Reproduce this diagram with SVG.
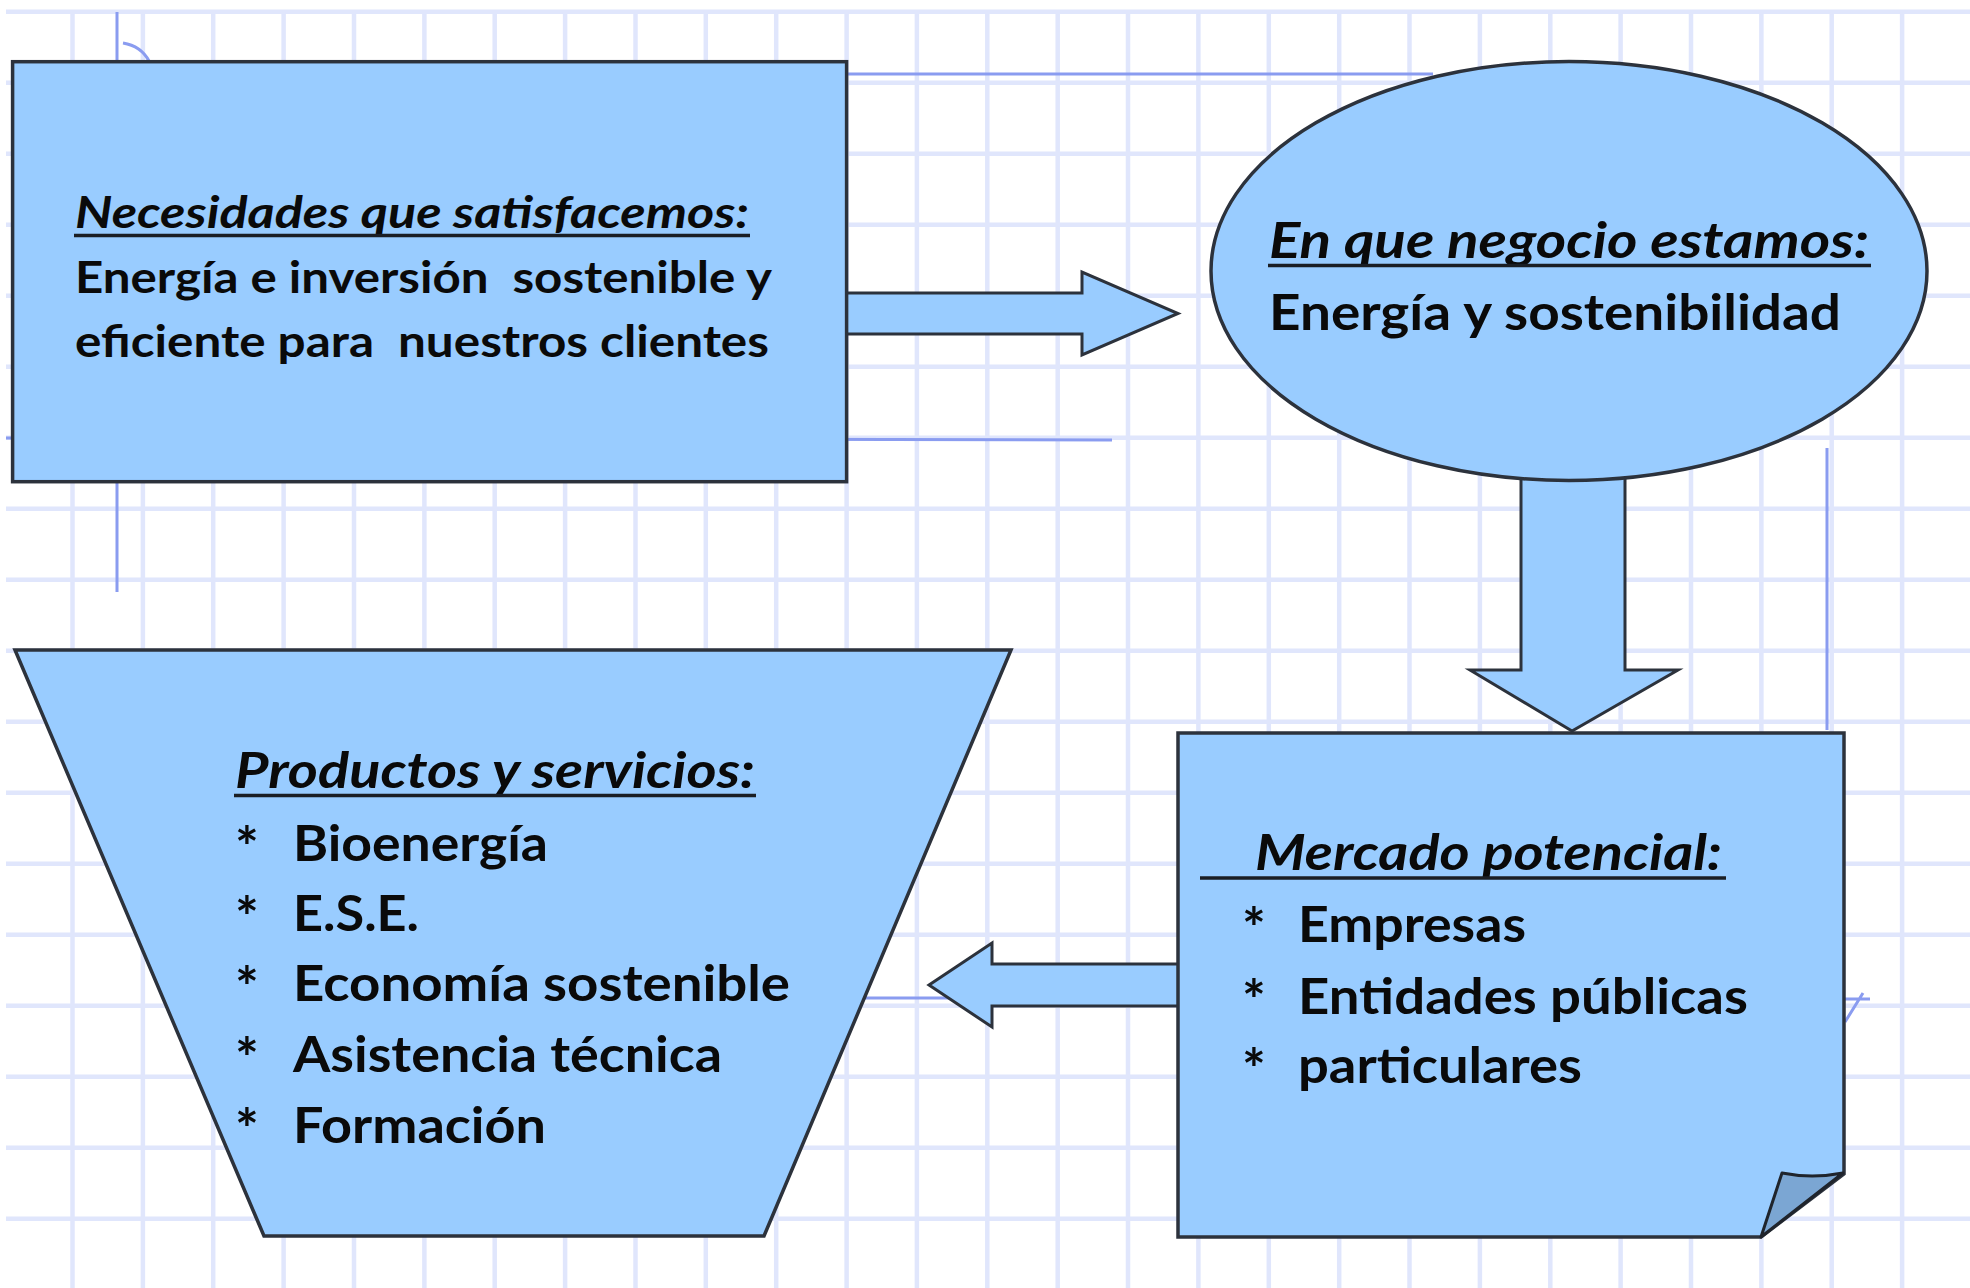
<svg xmlns="http://www.w3.org/2000/svg" width="1970" height="1288" viewBox="0 0 1970 1288">
<defs>
<style>
.grid line{stroke:#e0e6fc;stroke-width:4.5}
.mark{stroke:#8a9cf0;stroke-width:3;fill:none}
.shape{fill:#99ccff;stroke:#2c323c;stroke-width:3.5;stroke-linejoin:miter}
.arrow{fill:#99ccff;stroke:#2c323c;stroke-width:3}
.t{font-family:Lato,"Liberation Sans",sans-serif;font-weight:bold;fill:#0a0a0a;white-space:pre}
.h{font-style:italic}
.ul{stroke:#1a1e24;stroke-width:3.5}
.s44{font-size:44px}
.s49{font-size:49px}
.ast{font-size:56px}
</style>
</defs>
<rect width="1970" height="1288" fill="#ffffff"/>
<g class="grid">
<line x1="6" y1="11.7" x2="1970" y2="11.7"/>
<line x1="6" y1="82.7" x2="1970" y2="82.7"/>
<line x1="6" y1="153.7" x2="1970" y2="153.7"/>
<line x1="6" y1="224.7" x2="1970" y2="224.7"/>
<line x1="6" y1="295.7" x2="1970" y2="295.7"/>
<line x1="6" y1="366.7" x2="1970" y2="366.7"/>
<line x1="6" y1="437.7" x2="1970" y2="437.7"/>
<line x1="6" y1="508.7" x2="1970" y2="508.7"/>
<line x1="6" y1="579.7" x2="1970" y2="579.7"/>
<line x1="6" y1="650.7" x2="1970" y2="650.7"/>
<line x1="6" y1="721.7" x2="1970" y2="721.7"/>
<line x1="6" y1="792.7" x2="1970" y2="792.7"/>
<line x1="6" y1="863.7" x2="1970" y2="863.7"/>
<line x1="6" y1="934.7" x2="1970" y2="934.7"/>
<line x1="6" y1="1005.7" x2="1970" y2="1005.7"/>
<line x1="6" y1="1076.7" x2="1970" y2="1076.7"/>
<line x1="6" y1="1147.7" x2="1970" y2="1147.7"/>
<line x1="6" y1="1218.7" x2="1970" y2="1218.7"/>
<line x1="72.5" y1="11.7" x2="72.5" y2="1288"/>
<line x1="142.9" y1="11.7" x2="142.9" y2="1288"/>
<line x1="213.2" y1="11.7" x2="213.2" y2="1288"/>
<line x1="283.6" y1="11.7" x2="283.6" y2="1288"/>
<line x1="354" y1="11.7" x2="354" y2="1288"/>
<line x1="424.4" y1="11.7" x2="424.4" y2="1288"/>
<line x1="494.7" y1="11.7" x2="494.7" y2="1288"/>
<line x1="565.1" y1="11.7" x2="565.1" y2="1288"/>
<line x1="635.5" y1="11.7" x2="635.5" y2="1288"/>
<line x1="705.8" y1="11.7" x2="705.8" y2="1288"/>
<line x1="776.2" y1="11.7" x2="776.2" y2="1288"/>
<line x1="846.6" y1="11.7" x2="846.6" y2="1288"/>
<line x1="916.9" y1="11.7" x2="916.9" y2="1288"/>
<line x1="987.3" y1="11.7" x2="987.3" y2="1288"/>
<line x1="1057.7" y1="11.7" x2="1057.7" y2="1288"/>
<line x1="1128" y1="11.7" x2="1128" y2="1288"/>
<line x1="1198.4" y1="11.7" x2="1198.4" y2="1288"/>
<line x1="1268.8" y1="11.7" x2="1268.8" y2="1288"/>
<line x1="1339.2" y1="11.7" x2="1339.2" y2="1288"/>
<line x1="1409.5" y1="11.7" x2="1409.5" y2="1288"/>
<line x1="1479.9" y1="11.7" x2="1479.9" y2="1288"/>
<line x1="1550.3" y1="11.7" x2="1550.3" y2="1288"/>
<line x1="1620.6" y1="11.7" x2="1620.6" y2="1288"/>
<line x1="1691" y1="11.7" x2="1691" y2="1288"/>
<line x1="1761.4" y1="11.7" x2="1761.4" y2="1288"/>
<line x1="1831.7" y1="11.7" x2="1831.7" y2="1288"/>
<line x1="1902.1" y1="11.7" x2="1902.1" y2="1288"/>
</g>
<g class="marks">
<line class="mark" x1="117" y1="12" x2="117" y2="592" stroke="#b4c0f6"/>
<path class="mark" d="M123,43 Q141,46 149,61"/>
<line class="mark" x1="847" y1="74" x2="1433" y2="74"/>
<line class="mark" x1="6" y1="438" x2="1112" y2="440"/>
<line class="mark" x1="1827" y1="448" x2="1827" y2="730"/>
<line class="mark" x1="800" y1="998" x2="960" y2="998"/>
<path class="mark" d="M1845,1022 L1863,993 M1845,999 H1870" stroke-width="2.5"/>
</g>
<g id="connectors">
<polygon class="arrow" points="840,293 1082,293 1082,272 1178,313.5 1082,355 1082,334 840,334"/>
<polygon class="arrow" points="1521,470 1625,470 1625,670 1678,670 1572,731 1470,670 1521,670"/>
<polygon class="arrow" points="1185,964 992,964 992,943 929,985 992,1027 992,1006 1185,1006"/>
</g>
<g id="node-necesidades">
<rect class="shape" x="12.6" y="61.7" width="834" height="420"/>
<text class="t h s44" x="75" y="228" textLength="674" lengthAdjust="spacingAndGlyphs">Necesidades que satisfacemos:</text>
<line class="ul" x1="74" y1="235.5" x2="750" y2="235.5"/>
<text class="t s44" x="75" y="293" textLength="697" lengthAdjust="spacingAndGlyphs">Energía e inversión  sostenible y</text>
<text class="t s44" x="75" y="357" textLength="694" lengthAdjust="spacingAndGlyphs">eficiente para  nuestros clientes</text>
</g>
<g id="node-negocio">
<ellipse class="shape" cx="1569" cy="271" rx="358" ry="209.5"/>
<text class="t h s49" x="1269" y="258" textLength="600" lengthAdjust="spacingAndGlyphs">En que negocio estamos:</text>
<line class="ul" x1="1268" y1="265.5" x2="1871" y2="265.5"/>
<text class="t s49" x="1269" y="330" textLength="572" lengthAdjust="spacingAndGlyphs">Energía y sostenibilidad</text>
</g>
<g id="node-mercado">
<path class="shape" d="M1178,733 H1844 V1174 L1761,1237 H1178 Z"/>
<path d="M1761,1237 L1782,1173 Q1812,1179 1843,1173 Z" fill="#7ba6d3" stroke="#1f242c" stroke-width="3" stroke-linejoin="round"/>
<text class="t h s49" x="1255" y="870" textLength="467" lengthAdjust="spacingAndGlyphs">Mercado potencial:</text>
<line class="ul" x1="1200" y1="878" x2="1726" y2="878"/>
<text class="t ast" x="1242" y="948">*</text>
<text class="t s49" x="1298" y="942" textLength="228" lengthAdjust="spacingAndGlyphs">Empresas</text>
<text class="t ast" x="1242" y="1020">*</text>
<text class="t s49" x="1298" y="1014" textLength="450" lengthAdjust="spacingAndGlyphs">Entidades públicas</text>
<text class="t ast" x="1242" y="1089">*</text>
<text class="t s49" x="1298" y="1083" textLength="284" lengthAdjust="spacingAndGlyphs">particulares</text>
</g>
<g id="node-productos">
<polygon class="shape" points="15,650 1011,650 764,1236 264,1236"/>
<text class="t h s49" x="235" y="788" textLength="520" lengthAdjust="spacingAndGlyphs">Productos y servicios:</text>
<line class="ul" x1="234" y1="795.5" x2="756" y2="795.5"/>
<text class="t ast" x="235" y="867">*</text>
<text class="t s49" x="293" y="861" textLength="255" lengthAdjust="spacingAndGlyphs">Bioenergía</text>
<text class="t ast" x="235" y="937">*</text>
<text class="t s49" x="293" y="931" textLength="126" lengthAdjust="spacingAndGlyphs">E.S.E.</text>
<text class="t ast" x="235" y="1007">*</text>
<text class="t s49" x="293" y="1001" textLength="497" lengthAdjust="spacingAndGlyphs">Economía sostenible</text>
<text class="t ast" x="235" y="1078">*</text>
<text class="t s49" x="293" y="1072" textLength="429" lengthAdjust="spacingAndGlyphs">Asistencia técnica</text>
<text class="t ast" x="235" y="1149">*</text>
<text class="t s49" x="293" y="1143" textLength="253" lengthAdjust="spacingAndGlyphs">Formación</text>
</g>
</svg>
